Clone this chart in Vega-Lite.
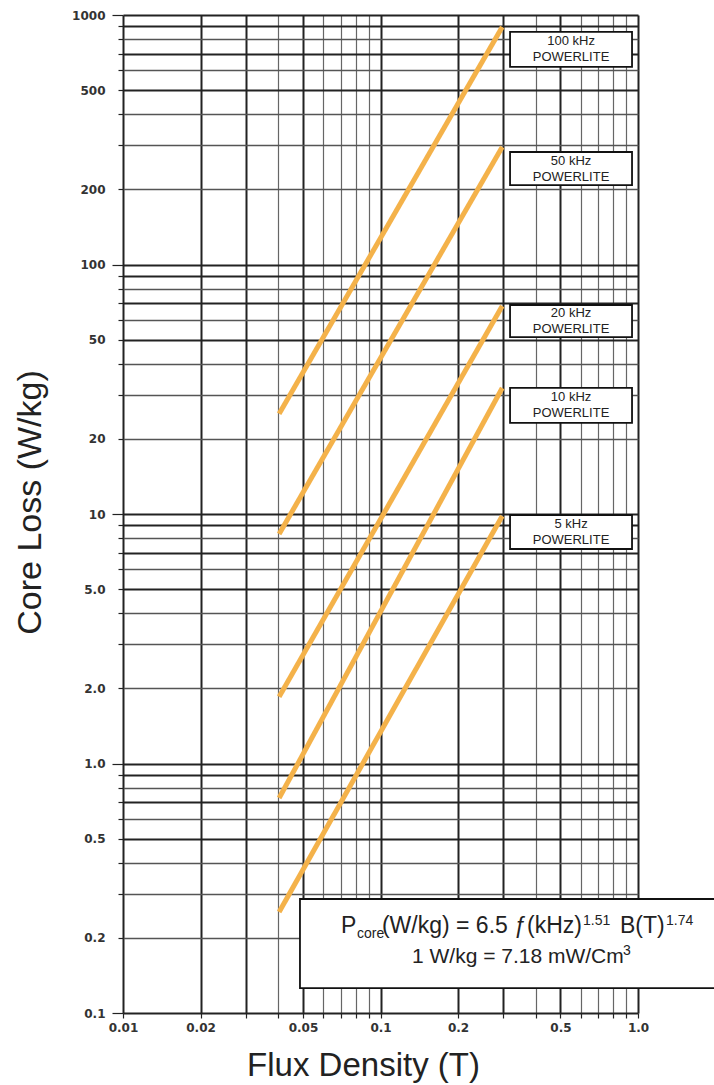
{
  "$schema": "https://vega.github.io/schema/vega-lite/v6.json",
  "width": 515,
  "height": 998,
  "autosize": {"type": "none"},
  "padding": {"left": 123, "top": 15, "right": 76, "bottom": 72},
  "background": "white",
  "config": {"view": {"stroke": null}, "font": "Liberation Sans"},
  "datasets": {
    "lines": [
      {"series": "100 kHz", "B": 0.0404, "P": 25.2}, {"series": "100 kHz", "B": 0.297, "P": 895},
      {"series": "50 kHz", "B": 0.0404, "P": 8.32}, {"series": "50 kHz", "B": 0.297, "P": 296},
      {"series": "20 kHz", "B": 0.0404, "P": 1.85}, {"series": "20 kHz", "B": 0.297, "P": 68.2},
      {"series": "10 kHz", "B": 0.0404, "P": 0.727}, {"series": "10 kHz", "B": 0.297, "P": 32.0},
      {"series": "5 kHz", "B": 0.0404, "P": 0.254}, {"series": "5 kHz", "B": 0.297, "P": 9.82}
    ],
    "boxes": [
      {"series": "100 kHz", "B": 0.3185, "B2": 0.948, "P": 855, "P2": 619},
      {"series": "50 kHz", "B": 0.3185, "B2": 0.948, "P": 282.4, "P2": 208.2},
      {"series": "20 kHz", "B": 0.3185, "B2": 0.948, "P": 68.8, "P2": 51.2},
      {"series": "10 kHz", "B": 0.3185, "B2": 0.948, "P": 32.0, "P2": 23.2},
      {"series": "5 kHz", "B": 0.3185, "B2": 0.948, "P": 9.91, "P2": 7.24}
    ],
    "labels": [
      {"series": "100 kHz", "B": 0.5495, "P": 727.4},
      {"series": "50 kHz", "B": 0.5495, "P": 242.5},
      {"series": "20 kHz", "B": 0.5495, "P": 59.35},
      {"series": "10 kHz", "B": 0.5495, "P": 27.25},
      {"series": "5 kHz", "B": 0.5495, "P": 8.47}
    ],
    "formulaBox": [{"B": 0.04867, "B2": 2.01, "P": 0.2863, "P2": 0.1259}],
    "big1": [
      {"B": 0.07024, "P": 0.2093, "t": "P"},
      {"B": 0.1013, "P": 0.2093, "t": "(W/kg) = 6.5 ƒ(kHz)"},
      {"B": 0.8513, "P": 0.2093, "t": "B(T)"}
    ],
    "big2": [
      {"B": 0.1325, "P": 0.1586, "t": "1 W/kg = 7.18 mW/Cm"}
    ],
    "small": [
      {"B": 0.08105, "P": 0.1999, "t": "core"},
      {"B": 0.6115, "P": 0.2253, "t": "1.51"},
      {"B": 1.284, "P": 0.2253, "t": "1.74"},
      {"B": 0.8743, "P": 0.1708, "t": "3"}
    ]
  },
  "encoding": {
    "x": {
      "field": "B",
      "type": "quantitative",
      "scale": {"type": "log", "domain": [0.01, 1], "nice": false},
      "axis": {
        "values": [0.01, 0.02, 0.03, 0.04, 0.05, 0.06, 0.07, 0.08, 0.09, 0.1, 0.2, 0.3, 0.4, 0.5, 0.6, 0.7, 0.8, 0.9, 1],
        "labelExpr": "indexof([0.01,0.02,0.05,0.1,0.2,0.5], datum.value) >= 0 ? toString(datum.value) : (datum.value == 1 ? '1.0' : '')",
        "grid": true,
        "gridOpacity": 1,
        "gridColor": {"condition": {"test": "indexof([1,2,3,5], round(datum.value / pow(10, floor(log(datum.value) / LN10 + 1e-6)))) >= 0", "value": "#222"}, "value": "#666"},
        "gridWidth": {"condition": {"test": "indexof([1,2,3,5], round(datum.value / pow(10, floor(log(datum.value) / LN10 + 1e-6)))) >= 0", "value": 2}, "value": 1.2},
        "domain": false,
        "tickSize": 5,
        "tickColor": "#222",
        "tickWidth": 1.2,
        "labelPadding": 4,
        "labelFont": "DejaVu Sans",
        "labelFontWeight": "bold",
        "labelFontSize": 12,
        "labelColor": "#333",
        "labelFlush": false,
        "labelOverlap": false,
        "labelBound": false,
        "title": "Flux Density (T)",
        "titleFont": "Liberation Sans",
        "titleFontSize": 33,
        "titleFontWeight": "normal",
        "titleColor": "#222",
        "titleX": 240,
        "titleY": 62,
        "titleAlign": "center",
        "titleBaseline": "alphabetic"
      }
    },
    "y": {
      "field": "P",
      "type": "quantitative",
      "scale": {"type": "log", "domain": [0.1, 1000], "nice": false},
      "axis": {
        "values": [0.1, 0.2, 0.3, 0.4, 0.5, 0.6, 0.7, 0.8, 0.9, 1, 2, 3, 4, 5, 6, 7, 8, 9, 10, 20, 30, 40, 50, 60, 70, 80, 90, 100, 200, 300, 400, 500, 600, 700, 800, 900, 1000],
        "labelExpr": "indexof([0.1,0.2,0.5,1,2,5,10,20,50,100,200,500,1000], datum.value) >= 0 ? (datum.value < 10 ? format(datum.value, '.1f') : format(datum.value, 'd')) : ''",
        "grid": true,
        "gridOpacity": 1,
        "gridColor": {"condition": {"test": "indexof([1,5,7,9], round(datum.value / pow(10, floor(log(datum.value) / LN10 + 1e-6)))) >= 0", "value": "#222"}, "value": "#555"},
        "gridWidth": {"condition": {"test": "indexof([1,5,7,9], round(datum.value / pow(10, floor(log(datum.value) / LN10 + 1e-6)))) >= 0", "value": 2}, "value": 1.3},
        "domain": false,
        "tickSize": {"condition": {"test": "indexof([0.1,1,10,100,1000], datum.value) >= 0", "value": 11}, "value": 5},
        "tickColor": "#222",
        "tickWidth": 1.2,
        "labelPadding": {"condition": {"test": "indexof([0.1,1,10,100,1000], datum.value) >= 0", "value": 7}, "value": 13},
        "labelFont": "DejaVu Sans",
        "labelFontWeight": "bold",
        "labelFontSize": 12,
        "labelColor": "#333",
        "labelOverlap": false,
        "labelBound": false,
        "labelFlush": false,
        "title": "Core Loss (W/kg)",
        "titleFont": "Liberation Sans",
        "titleFontSize": 34,
        "titleFontWeight": "normal",
        "titleColor": "#222",
        "titleAngle": -90,
        "titleX": -93,
        "titleY": 487,
        "titleAlign": "center",
        "titleBaseline": "middle"
      }
    }
  },
  "layer": [
    {
      "data": {"name": "lines"},
      "mark": {"type": "line", "color": "#F4B24A", "strokeWidth": 5, "strokeCap": "butt"},
      "encoding": {"detail": {"field": "series"}}
    },
    {
      "data": {"name": "boxes"},
      "mark": {"type": "rect", "fill": "white", "stroke": "#111", "strokeWidth": 1.8},
      "encoding": {"x2": {"field": "B2"}, "y2": {"field": "P2"}}
    },
    {
      "data": {"name": "labels"},
      "mark": {"type": "text", "fontSize": 13, "font": "Liberation Sans", "color": "#222", "dy": -8, "align": "center", "baseline": "middle"},
      "encoding": {"text": {"field": "series"}}
    },
    {
      "data": {"name": "labels"},
      "mark": {"type": "text", "fontSize": 13, "font": "Liberation Sans", "color": "#222", "dy": 8, "align": "center", "baseline": "middle"},
      "encoding": {"text": {"value": "POWERLITE"}}
    },
    {
      "data": {"name": "formulaBox"},
      "mark": {"type": "rect", "fill": "white", "stroke": "#111", "strokeWidth": 1.8},
      "encoding": {"x2": {"field": "B2"}, "y2": {"field": "P2"}}
    },
    {
      "data": {"name": "big1"},
      "mark": {"type": "text", "fontSize": 23, "font": "Liberation Sans", "color": "#222", "align": "left", "baseline": "alphabetic"},
      "encoding": {"text": {"field": "t"}}
    },
    {
      "data": {"name": "big2"},
      "mark": {"type": "text", "fontSize": 21, "font": "Liberation Sans", "color": "#222", "align": "left", "baseline": "alphabetic"},
      "encoding": {"text": {"field": "t"}}
    },
    {
      "data": {"name": "small"},
      "mark": {"type": "text", "fontSize": 14, "font": "Liberation Sans", "color": "#222", "align": "left", "baseline": "alphabetic"},
      "encoding": {"text": {"field": "t"}}
    }
  ]
}
